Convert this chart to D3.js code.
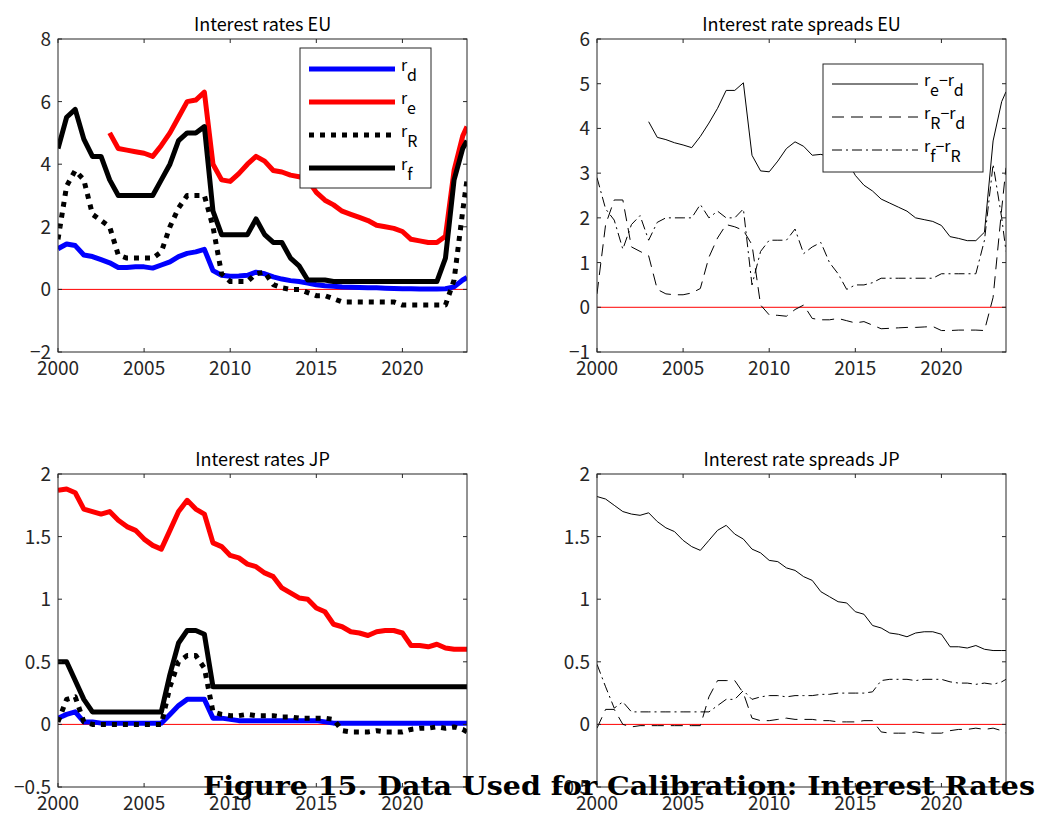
<!DOCTYPE html>
<html><head><meta charset="utf-8">
<script src="https://cdn.jsdelivr.net/npm/d3@7"></script>
<style>body{margin:0;background:#fff}</style>
</head><body>
<svg id="fig" width="1040" height="819"></svg>
<script>
// half-year grid, last point 2023.75
const years = d3.range(2000, 2023.6, 0.5).concat([2023.75]);

const euRd = [1.3,1.45,1.4,1.1,1.05,0.95,0.85,0.7,0.7,0.72,0.72,0.68,0.78,0.88,1.05,1.15,1.2,1.28,0.6,0.45,0.42,0.43,0.45,0.55,0.5,0.4,0.33,0.28,0.25,0.2,0.15,0.12,0.1,0.08,0.07,0.06,0.05,0.05,0.04,0.03,0.02,0.02,0.01,0.01,0.01,0.02,0.08,0.3,0.38];
const euRe = [null,null,null,null,null,null,5.0,4.5,4.45,4.4,4.35,4.25,4.6,5.0,5.5,6.0,6.05,6.3,4.0,3.5,3.45,3.7,4.0,4.25,4.1,3.8,3.75,3.65,3.6,3.5,3.1,2.85,2.7,2.5,2.4,2.3,2.2,2.05,2.0,1.95,1.85,1.6,1.55,1.5,1.5,1.7,3.8,4.9,5.2];
const euRR = [1.6,3.3,3.8,3.5,2.4,2.2,2.0,1.1,1.0,1.0,1.0,1.0,1.2,2.0,2.6,3.0,3.0,3.0,2.0,0.5,0.25,0.25,0.25,0.5,0.55,0.15,0.05,0.0,0.0,-0.1,-0.2,-0.2,-0.3,-0.4,-0.4,-0.4,-0.4,-0.4,-0.4,-0.4,-0.5,-0.5,-0.5,-0.5,-0.5,-0.5,0.3,2.5,3.5];
const euRf = [4.5,5.5,5.75,4.8,4.25,4.25,3.5,3.0,3.0,3.0,3.0,3.0,3.5,4.0,4.75,5.0,5.0,5.2,2.5,1.75,1.75,1.75,1.75,2.25,1.75,1.5,1.5,1.0,0.75,0.3,0.3,0.3,0.25,0.25,0.25,0.25,0.25,0.25,0.25,0.25,0.25,0.25,0.25,0.25,0.25,1.0,3.5,4.5,4.75];

const jpRd = [0.05,0.08,0.1,0.02,0.02,0.01,0.01,0.01,0.01,0.01,0.01,0.01,0.01,0.08,0.15,0.2,0.2,0.2,0.05,0.05,0.04,0.03,0.03,0.03,0.03,0.03,0.03,0.03,0.03,0.03,0.03,0.02,0.01,0.01,0.01,0.01,0.01,0.01,0.01,0.01,0.01,0.01,0.01,0.01,0.01,0.01,0.01,0.01,0.01];
const jpRe = [1.87,1.88,1.85,1.72,1.7,1.68,1.7,1.63,1.58,1.55,1.48,1.43,1.4,1.55,1.7,1.79,1.72,1.68,1.45,1.42,1.35,1.33,1.28,1.26,1.21,1.18,1.09,1.05,1.01,1.0,0.93,0.9,0.8,0.78,0.74,0.73,0.71,0.74,0.75,0.75,0.73,0.63,0.63,0.62,0.64,0.61,0.6,0.6,0.6];
const jpRR = [0.02,0.2,0.22,0.02,0.0,0.0,0.0,0.0,0.0,0.0,0.0,0.0,0.0,0.3,0.5,0.55,0.55,0.45,0.1,0.08,0.07,0.07,0.08,0.07,0.07,0.07,0.06,0.06,0.05,0.05,0.05,0.05,0.04,-0.05,-0.06,-0.06,-0.06,-0.05,-0.06,-0.06,-0.06,-0.04,-0.03,-0.03,-0.02,-0.03,-0.02,-0.04,-0.06];
const jpRf = [0.5,0.5,0.35,0.2,0.1,0.1,0.1,0.1,0.1,0.1,0.1,0.1,0.1,0.4,0.65,0.75,0.75,0.72,0.3,0.3,0.3,0.3,0.3,0.3,0.3,0.3,0.3,0.3,0.3,0.3,0.3,0.3,0.3,0.3,0.3,0.3,0.3,0.3,0.3,0.3,0.3,0.3,0.3,0.3,0.3,0.3,0.3,0.3,0.3];

const xTicks = [2000, 2005, 2010, 2015, 2020];
const euRateTicks = [-2, 0, 2, 4, 6, 8];
const euSpreadTicks = [-1, 0, 1, 2, 3, 4, 5, 6];
const jpTicks = [-0.5, 0, 0.5, 1, 1.5, 2];

const diff = (a, b) => a.map((v, i) => (v == null || b[i] == null) ? null : v - b[i]);

const svg = d3.select("#fig");
const FONT = "'Noto Sans CJK JP', 'Noto Sans', sans-serif";

function panel(box, title, yDomain, yTicks, series, legend) {
  const x = d3.scaleLinear().domain([2000, 2023.75]).range([box.x0, box.x1]);
  const y = d3.scaleLinear().domain(yDomain).range([box.y1, box.y0]);
  const g = svg.append("g");
  g.append("line").attr("x1", box.x0).attr("x2", box.x1)
    .attr("y1", y(0)).attr("y2", y(0)).attr("stroke", "#ff0000").attr("stroke-width", 1);
  const clip = "c" + Math.round(box.x0) + Math.round(box.y0);
  svg.append("clipPath").attr("id", clip).append("rect")
    .attr("x", box.x0).attr("y", box.y0).attr("width", box.x1 - box.x0).attr("height", box.y1 - box.y0);
  series.forEach(s => {
    const line = d3.line().defined(d => d[1] != null).x(d => x(d[0])).y(d => y(d[1]));
    g.append("path").datum(years.map((t, i) => [t, s.values[i]]))
      .attr("clip-path", `url(#${clip})`)
      .attr("d", line).attr("fill", "none").attr("stroke", s.color)
      .attr("stroke-width", s.width).attr("stroke-dasharray", s.dash || null)
      .attr("stroke-linejoin", "round");
  });
  // axes box with inward ticks
  const ax = svg.append("g").attr("font-family", FONT).attr("font-size", 19).attr("fill", "#262626");
  ax.append("rect").attr("x", box.x0).attr("y", box.y0).attr("width", box.x1 - box.x0)
    .attr("height", box.y1 - box.y0).attr("fill", "none").attr("stroke", "#262626").attr("stroke-width", 1);
  xTicks.forEach(t => {
    ax.append("line").attr("x1", x(t)).attr("x2", x(t)).attr("y1", box.y1).attr("y2", box.y1 - 4).attr("stroke", "#262626");
    ax.append("line").attr("x1", x(t)).attr("x2", x(t)).attr("y1", box.y0).attr("y2", box.y0 + 4).attr("stroke", "#262626");
    ax.append("text").attr("x", x(t)).attr("y", box.y1 + 23).attr("text-anchor", "middle").text(t);
  });
  yTicks.forEach(t => {
    ax.append("line").attr("x1", box.x0).attr("x2", box.x0 + 4).attr("y1", y(t)).attr("y2", y(t)).attr("stroke", "#262626");
    ax.append("line").attr("x1", box.x1).attr("x2", box.x1 - 4).attr("y1", y(t)).attr("y2", y(t)).attr("stroke", "#262626");
    ax.append("text").attr("x", box.x0 - 7).attr("y", y(t) + 7).attr("text-anchor", "end")
      .text(t < 0 ? "\u2212" + Math.abs(t) : t);
  });
  ax.append("text").attr("x", (box.x0 + box.x1) / 2).attr("y", box.y0 - 8).attr("font-size", 18)
    .attr("text-anchor", "middle").attr("fill", "#000").text(title);

  if (legend) {
    const lg = svg.append("g").attr("font-family", FONT);
    lg.append("rect").attr("x", legend.x).attr("y", legend.y).attr("width", legend.w).attr("height", legend.h)
      .attr("fill", "#fff").attr("stroke", "#262626");
    series.forEach((s, i) => {
      const yy = legend.y + legend.pad + i * legend.step;
      lg.append("line").attr("x1", legend.x + 9).attr("x2", legend.x + 9 + legend.len)
        .attr("y1", yy).attr("y2", yy).attr("stroke", s.color).attr("stroke-width", s.width)
        .attr("stroke-dasharray", s.dash || null);
      const tx = lg.append("text").attr("x", legend.x + 15 + legend.len).attr("y", yy + 2).attr("font-size", 16);
      s.label.forEach(p => {
        tx.append("tspan").text(p[0]);
        tx.append("tspan").attr("dy", 10).attr("font-size", 16).text(p[1]);
        tx.append("tspan").attr("dy", -10).text(p[2] || "");
      });
    });
  }
}

panel({x0: 58, x1: 467, y0: 39, y1: 352}, "Interest rates EU", [-2, 8], euRateTicks, [
  {values: euRd, color: "#0000ff", width: 5, label: [["r", "d"]]},
  {values: euRe, color: "#ff0000", width: 5, label: [["r", "e"]]},
  {values: euRR, color: "#000", width: 5, dash: "5,6", label: [["r", "R"]]},
  {values: euRf, color: "#000", width: 5, label: [["r", "f"]]}
], {x: 300, y: 48, w: 131, h: 140, pad: 21, step: 33, len: 86});

panel({x0: 597, x1: 1006, y0: 39, y1: 352}, "Interest rate spreads EU", [-1, 6], euSpreadTicks, [
  {values: diff(euRe, euRd), color: "#000", width: 1, label: [["r", "e", "\u2212"], ["r", "d"]]},
  {values: diff(euRR, euRd), color: "#000", width: 1, dash: "12,7", label: [["r", "R", "\u2212"], ["r", "d"]]},
  {values: diff(euRf, euRR), color: "#000", width: 1, dash: "10,4,2,4", label: [["r", "f", "\u2212"], ["r", "R"]]}
], {x: 823, y: 64, w: 160, h: 108, pad: 20, step: 33, len: 86});

panel({x0: 58, x1: 467, y0: 474, y1: 787}, "Interest rates JP", [-0.5, 2], jpTicks, [
  {values: jpRd, color: "#0000ff", width: 5},
  {values: jpRe, color: "#ff0000", width: 5},
  {values: jpRR, color: "#000", width: 5, dash: "5,6"},
  {values: jpRf, color: "#000", width: 5}
]);

panel({x0: 597, x1: 1006, y0: 474, y1: 787}, "Interest rate spreads JP", [-0.5, 2], jpTicks, [
  {values: diff(jpRe, jpRd), color: "#000", width: 1},
  {values: diff(jpRR, jpRd), color: "#000", width: 1, dash: "12,7"},
  {values: diff(jpRf, jpRR), color: "#000", width: 1, dash: "10,4,2,4"}
]);

svg.append("text").attr("x", 203).attr("y", 795)
  .attr("font-family", "'DejaVu Serif', serif").attr("font-weight", "bold").attr("font-size", 26)
  .attr("textLength", 832).attr("lengthAdjust", "spacingAndGlyphs")
  .text("Figure 15.  Data Used for Calibration: Interest Rates");
</script>
</body></html>
